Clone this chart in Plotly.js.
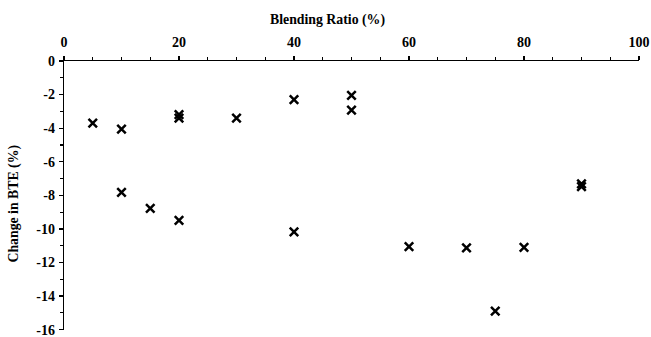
<!DOCTYPE html>
<html><head><meta charset="utf-8">
<script src="https://cdn.plot.ly/plotly-3.0.1.min.js"></script>
<style>body{margin:0;padding:0;background:#fff}</style>
</head><body>
<div id="chart" style="width:651px;height:337px"></div>
<script>
const blendingRatio = [5, 10, 20, 20, 30, 40, 50, 50, 10, 15, 20, 40, 60, 70, 75, 80, 90, 90];
const changeBTE = [-3.7, -4.05, -3.2, -3.4, -3.4, -2.3, -2.05, -2.92, -7.82, -8.77, -9.49, -10.18, -11.05, -11.13, -14.9, -11.1, -7.32, -7.48];
const xTicks = [0, 20, 40, 60, 80, 100];
const yTicks = [0, -2, -4, -6, -8, -10, -12, -14, -16];
const xTitle = 'Blending Ratio (%)';
const yTitle = 'Change in BTE (%)';

const fam = 'Liberation Serif, Times New Roman, serif';
const trace = {
  x: blendingRatio, y: changeBTE, type: 'scatter', mode: 'markers',
  marker: {symbol: 'x-thin', size: 8.5, color: '#000', line: {color: '#000', width: 2.5}},
  hoverinfo: 'skip', cliponaxis: false
};
const layout = {
  width: 651, height: 337,
  margin: {l: 63.5, r: 11.5, t: 61, b: 7},
  paper_bgcolor: '#fff', plot_bgcolor: '#fff',
  showlegend: false,
  font: {family: fam, size: 14, color: '#000'},
  xaxis: {
    side: 'top', range: [0, 100], tickvals: xTicks, ticktext: xTicks.map(String),
    showgrid: false, zeroline: false, showline: true, linecolor: '#000', linewidth: 1.3,
    ticks: 'outside', ticklen: 4, tickwidth: 1.3, tickcolor: '#000',
    minor: {dtick: 5, ticks: 'outside', ticklen: 3, tickwidth: 1.2, tickcolor: '#000', showgrid: false},
    tickfont: {family: fam, size: 14, color: '#000', weight: 'bold'},
    ticklabelstandoff: 3,
    ticklabeloverflow: 'allow',
    fixedrange: true
  },
  yaxis: {
    range: [-16.02, 0], tickvals: yTicks, ticktext: yTicks.map(String),
    showgrid: false, zeroline: false, showline: true, linecolor: '#000', linewidth: 1.3,
    ticks: 'outside', ticklen: 4, tickwidth: 1.3, tickcolor: '#000',
    minor: {dtick: 1, ticks: 'outside', ticklen: 3, tickwidth: 1.2, tickcolor: '#000', showgrid: false},
    tickfont: {family: fam, size: 14, color: '#000', weight: 'bold'},
    ticklabelstandoff: 1,
    ticklabeloverflow: 'allow',
    fixedrange: true
  },
  annotations: [
    {text: '<b>' + xTitle + '</b>', xref: 'paper', yref: 'paper', x: 0.459, y: 1, yshift: 41,
     xanchor: 'center', yanchor: 'middle', showarrow: false, font: {family: fam, size: 13.8, color: '#000'}},
    {text: '<b>' + yTitle + '</b>', xref: 'paper', yref: 'paper', x: 0, xshift: -50, y: 0.47,
     xanchor: 'center', yanchor: 'middle', textangle: -90, showarrow: false, font: {family: fam, size: 13.8, color: '#000'}}
  ]
};
Plotly.newPlot('chart', [trace], layout, {displayModeBar: false, staticPlot: true});
</script>
</body></html>
